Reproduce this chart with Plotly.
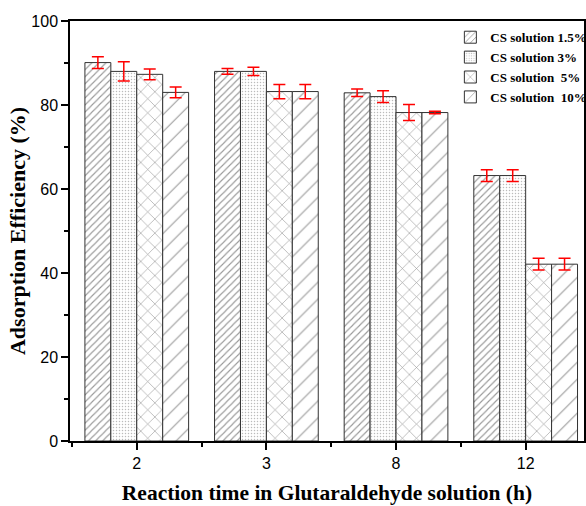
import plotly.graph_objects as go

categories = ["2", "3", "8", "12"]
series_names = ["CS solution 1.5%", "CS solution 3%", "CS solution  5%", "CS solution  10%"]
values_15 = [90.1, 88.0, 82.9, 63.2]
values_3 = [88.0, 88.0, 82.0, 63.2]
values_5 = [87.3, 83.2, 78.2, 42.1]
values_10 = [83.0, 83.2, 78.2, 42.1]
err_15 = [1.4, 0.7, 0.9, 1.4]
err_3 = [2.3, 1.0, 1.4, 1.4]
err_5 = [1.3, 1.7, 1.9, 1.4]
err_10 = [1.3, 1.7, 0.3, 1.4]
y_ticks = [0, 20, 40, 60, 80, 100]

xpos = list(range(len(categories)))
series = [values_15, values_3, values_5, values_10]
errs = [err_15, err_3, err_5, err_10]
patterns = [
    dict(shape="/", size=5, solidity=0.22, fgcolor="#333333", bgcolor="white"),
    dict(shape=".", size=3, solidity=0.2, fgcolor="#777777", bgcolor="white"),
    dict(shape="x", size=10, solidity=0.12, fgcolor="#333333", bgcolor="white"),
    dict(shape="/", size=12, solidity=0.09, fgcolor="#333333", bgcolor="white"),
]

fig = go.Figure()
for name, vals, er, pat in zip(series_names, series, errs, patterns):
    fig.add_trace(go.Bar(
        x=xpos, y=vals, name=name,
        marker=dict(color="white", pattern=pat, line=dict(color="#333333", width=1)),
        error_y=dict(type="data", array=er, color="red", thickness=1.5, width=6),
    ))

fig.update_layout(
    width=586, height=506,
    margin=dict(l=70, r=2, t=21, b=65, autoexpand=False),
    paper_bgcolor="white", plot_bgcolor="white",
    barmode="group", bargap=0.2, bargroupgap=0,
    font=dict(family="Liberation Sans, Arial", color="black"),
    legend=dict(
        x=0.74, y=0.997, xanchor="left", yanchor="top",
        font=dict(family="Liberation Serif, Times New Roman", size=13, color="black", weight="bold"),
        bgcolor="rgba(0,0,0,0)", tracegroupgap=0, itemwidth=30,
    ),
    showlegend=True,
)
fig.update_xaxes(
    range=[-0.515, 3.45], automargin=False,
    tickmode="array", tickvals=xpos, ticktext=categories,
    ticks="outside", ticklen=7, tickwidth=1.5, tickcolor="black",
    minor=dict(ticks="outside", ticklen=4, tick0=0.5, dtick=1, tickcolor="black", tickwidth=1.5),
    showline=True, linecolor="black", linewidth=1.5, mirror=True,
    showgrid=False, zeroline=False,
    tickfont=dict(size=16, family="Liberation Sans, Arial", color="black"),
    title=dict(text="Reaction time in Glutaraldehyde solution (h)",
               font=dict(family="Liberation Serif, Times New Roman", size=21.5, color="black", weight="bold"),
               standoff=14),
)
fig.update_yaxes(
    range=[0, 100], automargin=False,
    tickmode="array", tickvals=y_ticks,
    ticks="outside", ticklen=7, tickwidth=1.5, tickcolor="black",
    minor=dict(ticks="outside", ticklen=4, tick0=10, dtick=20, tickcolor="black", tickwidth=1.5),
    showline=True, linecolor="black", linewidth=1.5, mirror=True,
    showgrid=False, zeroline=False,
    tickfont=dict(size=16, family="Liberation Sans, Arial", color="black"),
    title=dict(text="Adsorption Efficiency (%)",
               font=dict(family="Liberation Serif, Times New Roman", size=22, color="black", weight="bold"),
               standoff=0),
)

fig.write_html("out.html", config={"displayModeBar": False},
               post_script="document.body.style.margin='0';")
